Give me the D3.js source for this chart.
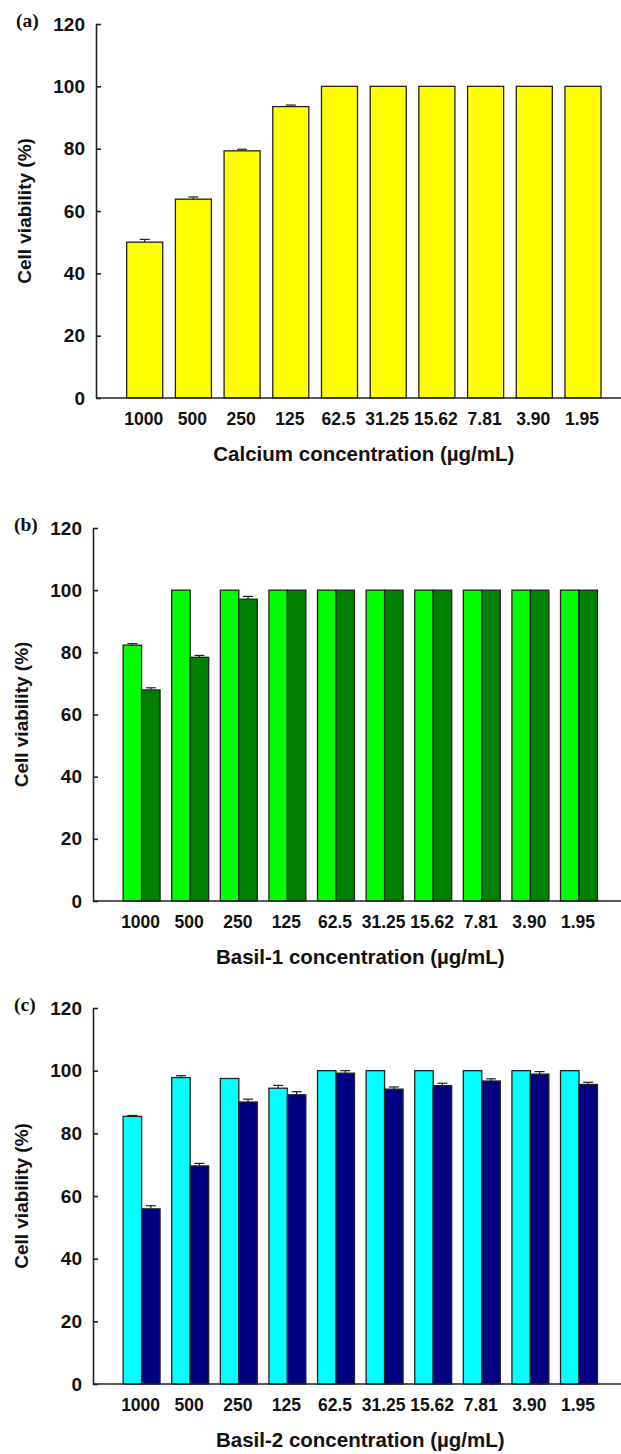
<!DOCTYPE html>
<html>
<head>
<meta charset="utf-8">
<script src="https://cdn.jsdelivr.net/npm/d3@7"></script>
<style>
  body { margin: 0; background: #fff; }
  svg text { font-family: "Liberation Sans", Arial, sans-serif; font-weight: bold; fill: #111; }
</style>
</head>
<body>
<svg id="chart" width="621" height="1454"></svg>
<script>
var concentrations = ["1000", "500", "250", "125", "62.5", "31.25", "15.62", "7.81", "3.90", "1.95"];
var yTicks = [0, 20, 40, 60, 80, 100, 120];

// panel (a) calcium
var calciumValues = [50, 63.8, 79.3, 93.5, 100, 100, 100, 100, 100, 100];
var calciumErrors = [0.9, 0.7, 0.5, 0.5, 0, 0, 0, 0, 0, 0];

// panel (b) basil-1, two series
var basil1Light = [82.3, 100, 100, 100, 100, 100, 100, 100, 100, 100];
var basil1LightErr = [0.5, 0, 0, 0, 0, 0, 0, 0, 0, 0];
var basil1Dark = [67.9, 78.4, 97.1, 100, 100, 100, 100, 100, 100, 100];
var basil1DarkErr = [0.7, 0.6, 0.9, 0, 0, 0, 0, 0, 0, 0];

// panel (c) basil-2, two series
var basil2Light = [85.4, 97.8, 97.5, 94.4, 100, 100, 100, 100, 100, 100];
var basil2LightErr = [0.3, 0.6, 0, 0.9, 0, 0, 0, 0, 0, 0];
var basil2Dark = [55.9, 69.6, 90, 92.3, 99.2, 94.1, 95.2, 96.7, 98.9, 95.6];
var basil2DarkErr = [1.0, 0.8, 0.9, 1.0, 0.8, 0.7, 0.8, 0.7, 0.8, 0.7];

var svg = d3.select("#chart");

function drawPanel(opt) {
    var g = svg.append("g");
    var x0 = opt.axisX, step = opt.step;

    var y = d3.scaleLinear().domain([0, 120]).range([opt.bottom, opt.top]);

    var x = d3.scaleBand()
        .domain(concentrations)
        .range([x0 + step * 0.5, x0 + step * 10.5])
        .paddingInner(opt.pad)
        .paddingOuter(opt.pad / 2);

    var sub = d3.scaleBand()
        .domain(d3.range(opt.series.length))
        .range([0, x.bandwidth()]);

    // bars
    opt.series.forEach(function (s, si) {
        g.selectAll(null)
            .data(s.values)
            .enter()
            .append("rect")
            .attr("x", function (d, i) { return x(concentrations[i]) + sub(si); })
            .attr("y", function (d) { return y(d); })
            .attr("width", sub.bandwidth())
            .attr("height", function (d) { return y(0) - y(d); })
            .attr("fill", s.color)
            .attr("stroke", "#222")
            .attr("stroke-width", 1.3);

        // error bars (upper half only)
        s.values.forEach(function (d, i) {
            var e = s.errors[i];
            if (!e) return;
            var cx = x(concentrations[i]) + sub(si) + sub.bandwidth() / 2;
            g.append("line")
                .attr("x1", cx).attr("x2", cx)
                .attr("y1", y(d)).attr("y2", y(d + e))
                .attr("stroke", "#222").attr("stroke-width", 1.2);
            g.append("line")
                .attr("x1", cx - 5).attr("x2", cx + 5)
                .attr("y1", y(d + e)).attr("y2", y(d + e))
                .attr("stroke", "#222").attr("stroke-width", 1.2);
        });
    });

    // y axis, inward ticks
    var yAxis = d3.axisLeft(y).tickValues(yTicks).tickSizeInner(-5).tickSizeOuter(0).tickPadding(11);
    var ya = g.append("g").attr("transform", "translate(" + x0 + ",0)").call(yAxis);
    ya.select(".domain").attr("stroke", "#222").attr("stroke-width", 1.6);
    ya.selectAll(".tick line").attr("stroke", "#222").attr("stroke-width", 1.6);
    ya.selectAll(".tick text")
        .style("font-size", "19px")
        .style("font-family", "'Liberation Sans', Arial, sans-serif")
        .style("font-weight", "bold")
        .attr("fill", "#111");

    // x axis line + labels
    g.append("line")
        .attr("x1", x0).attr("x2", 621)
        .attr("y1", y(0)).attr("y2", y(0))
        .attr("stroke", "#222").attr("stroke-width", 1.6);

    g.selectAll(null)
        .data(concentrations)
        .enter()
        .append("text")
        .attr("x", function (d) { return x(d) + x.bandwidth() / 2 - 1; })
        .attr("y", y(0) + 27)
        .attr("text-anchor", "middle")
        .style("font-size", "17.5px")
        .text(function (d) { return d; });

    g.append("text")
        .attr("x", x0 + step * 5.5)
        .attr("y", y(0) + 63)
        .attr("text-anchor", "middle")
        .style("font-size", "20.5px")
        .text(opt.xTitle);

    g.append("text")
        .attr("transform", "translate(" + (x0 - 65) + "," + ((opt.top + opt.bottom) / 2) + ") rotate(-90)")
        .attr("text-anchor", "middle")
        .style("font-size", "19px")
        .text("Cell viability (%)");

    g.append("text")
        .attr("x", opt.labelX)
        .attr("y", opt.top + 3)
        .style("font-size", "19.5px")
        .style("font-family", "'Liberation Serif', 'Times New Roman', serif")
        .text(opt.label);
}

drawPanel({
    label: "(a)", labelX: 16, axisX: 96, top: 24, bottom: 398, step: 48.7, pad: 0.26,
    xTitle: "Calcium concentration (\u00b5g/mL)",
    series: [{ values: calciumValues, errors: calciumErrors, color: "#ffff00" }]
});

drawPanel({
    label: "(b)", labelX: 14, axisX: 93, top: 528, bottom: 901, step: 48.6, pad: 0.24,
    xTitle: "Basil-1 concentration (\u00b5g/mL)",
    series: [
        { values: basil1Light, errors: basil1LightErr, color: "#00ff00" },
        { values: basil1Dark, errors: basil1DarkErr, color: "#008000" }
    ]
});

drawPanel({
    label: "(c)", labelX: 14, axisX: 93, top: 1008, bottom: 1384, step: 48.6, pad: 0.24,
    xTitle: "Basil-2 concentration (\u00b5g/mL)",
    series: [
        { values: basil2Light, errors: basil2LightErr, color: "#00ffff" },
        { values: basil2Dark, errors: basil2DarkErr, color: "#000080" }
    ]
});
</script>
</body>
</html>
